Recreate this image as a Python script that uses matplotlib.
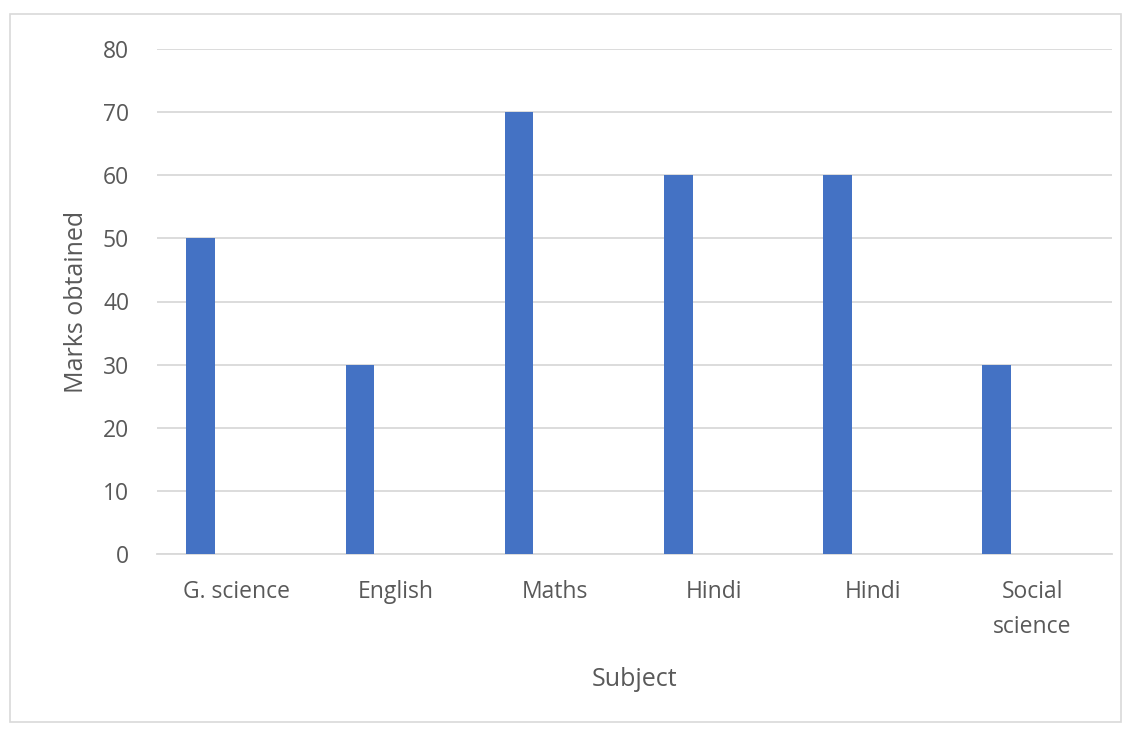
import matplotlib
matplotlib.use("Agg")
import matplotlib.pyplot as plt
from matplotlib.patches import Rectangle
import numpy as np

categories = ["G. science", "English", "Maths", "Hindi", "Hindi", "Social\nscience"]
marks = [50, 30, 70, 60, 60, 30]
yticks = [0, 10, 20, 30, 40, 50, 60, 70, 80]

W, H = 1133, 731
fig = plt.figure(figsize=(W / 100, H / 100), dpi=100)
plt.rcParams['font.family'] = ['Open Sans', 'DejaVu Sans']
txt = '#595959'

ax = fig.add_axes([157 / W, 1 - 554 / H, (1112 - 157) / W, (554 - 49) / H])
x = np.arange(len(categories))
ax.bar(x - 0.225, marks, width=0.18, color='#4472C4', zorder=3)
ax.set_xlim(-0.5, len(categories) - 0.5)
ax.set_ylim(0, 80)
ax.set_yticks(yticks)
ax.set_xticks(x)
ax.set_xticklabels(categories, linespacing=1.6)
ax.grid(axis='y', color='#D9D9D9', linewidth=1.3, zorder=0)
for s in ['top', 'right', 'left']:
    ax.spines[s].set_visible(False)
ax.spines['bottom'].set_color('#D9D9D9')
ax.spines['bottom'].set_linewidth(1.3)
ax.tick_params(axis='both', length=0, labelsize=16.5, labelcolor=txt)
ax.tick_params(axis='y', pad=20)
ax.tick_params(axis='x', pad=19)
ax.set_ylabel('Marks obtained', fontsize=18, color=txt, labelpad=10)
ax.set_xlabel('Subject', fontsize=18, color=txt, labelpad=20)

fig.patches.append(Rectangle((10 / W, 1 - 722 / H), (1121 - 10) / W, (722 - 14) / H,
                             transform=fig.transFigure, fill=False,
                             edgecolor='#D9D9D9', linewidth=1.2))
fig.savefig('out.png', dpi=100)
